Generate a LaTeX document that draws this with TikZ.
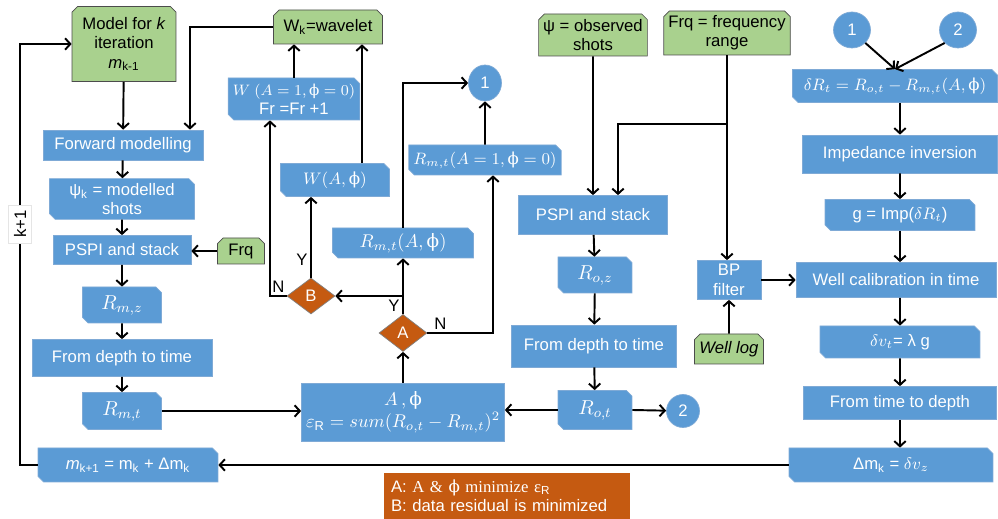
\RequirePackage{fix-cm}
\documentclass[tikz,border=0pt]{standalone}
\usepackage{fontspec}
\setmainfont{Liberation Sans}
\newfontfamily\phifont{DejaVu Serif}
\newfontfamily\legserif{Liberation Serif}
\usetikzlibrary{shapes.misc,shapes.geometric,arrows.meta}

\definecolor{boxblue}{HTML}{5B9BD5}
\definecolor{blueline}{HTML}{7FAAD6}
\definecolor{boxgreen}{HTML}{A9D18E}
\definecolor{boxorange}{HTML}{C55A11}

\newcommand{\phis}{\mbox{\phifont ϕ}}

\begin{document}
\begin{tikzpicture}[x=0.02cm, y=-0.02cm,
  >={Straight Barb[length=3pt,width=6.5pt]},
  every node/.style={font=\fontsize{9.5}{11}\selectfont, align=center},
  plainbox/.style={rectangle, draw=blueline, fill=boxblue, text=white, inner sep=1pt},
  snipbox/.style={plainbox, chamfered rectangle, chamfered rectangle corners={north east,south west}, chamfered rectangle sep=1.6pt},
  inbox/.style={chamfered rectangle, chamfered rectangle corners={north west,north east}, chamfered rectangle sep=1.6pt, draw=black!70, fill=boxgreen, text=black, inner sep=1pt},
  decision/.style={diamond, draw=gray, fill=boxorange, text=white, inner sep=0pt},
  joint/.style={ellipse, draw=blueline, fill=boxblue, text=white, inner sep=0pt},
  arr/.style={->, line width=1.1pt},
  lbl/.style={text=black, inner sep=1.5pt},
  smallmath/.style={font=\fontsize{9.4}{11}\selectfont},
  mathsz/.style={font=\fontsize{10.5}{12.5}\selectfont},
  bigmath/.style={font=\fontsize{11.5}{13}\selectfont}]
\useasboundingbox (0,0) rectangle (998,519);

% left column
\node[inbox, minimum width=2.08cm, minimum height=1.5cm] (model) at (124,44) {Model for \textit{k}\\iteration\\\textit{m}\textsubscript{k-1}};
\node[inbox, minimum width=2.18cm, minimum height=0.68cm] (wavelet) at (328,27) {W\textsubscript{k}=wavelet};
\node[plainbox, minimum width=3.2cm, minimum height=0.6cm] (fwd) at (123,145) {Forward modelling};
\node[snipbox, minimum width=2.9cm, minimum height=0.76cm] (psik) at (122,199) {ψ\textsubscript{k} = modelled\\shots};
\node[plainbox, minimum width=2.76cm, minimum height=0.58cm] (pspim) at (122,250) {PSPI and stack};
\node[inbox, minimum width=0.94cm, minimum height=0.52cm] (frqa) at (241,251) {Frq};
\node[snipbox, bigmath, minimum width=1.58cm, minimum height=0.72cm] (rmz) at (122,305) {$R_{m,z}$};
\node[plainbox, minimum width=3.6cm, minimum height=0.74cm] (dtm) at (122,358) {From depth to time};
\node[snipbox, bigmath, minimum width=1.58cm, minimum height=0.74cm] (rmt) at (122,411) {$R_{m,t}$};
\node[snipbox, minimum width=3.6cm, minimum height=0.68cm] (mnew) at (128,465) {\textit{m}\textsubscript{k+1} = m\textsubscript{k} + Δm\textsubscript{k}};
\coordinate (kline) at (20,224);

% wavelet and reflectivity loop
\node[snipbox, minimum width=2.44cm, minimum height=0.84cm] (wone) at (294,99) {{\fontsize{8.6}{10}\selectfont$W\ (A=1,\phis=0)$}\\Fr =Fr +1};
\node[snipbox, minimum width=2.18cm, minimum height=0.66cm] (waphi) at (335,180) {$W(A,\phis)$};
\node[decision, minimum width=0.96cm, minimum height=0.72cm] (bdec) at (311,296) {B};
\node[snipbox, mathsz, minimum width=2.82cm, minimum height=0.6cm] (rmtaphi) at (403,243) {$R_{m,t}(A,\phis)$};
\node[decision, minimum width=0.96cm, minimum height=0.74cm] (adec) at (403,333) {A};
\node[plainbox, mathsz, minimum width=4.06cm, minimum height=1.16cm] (objective) at (403,412) {$A\,,\phis$\\$\varepsilon_{\mathrm{R}} = sum(R_{o,t}-R_{m,t})^2$};
\node[snipbox, smallmath, minimum width=3.0cm, minimum height=0.6cm] (rmtone) at (485,160) {$R_{m,t}(A=1,\phis=0)$};
\node[joint, minimum width=0.66cm, minimum height=0.72cm] (conone) at (485,83) {1};
\coordinate (ysplit) at (403,296);

% observed data
\node[inbox, minimum width=2.1cm, minimum height=0.84cm] (psio) at (593,35) {ψ = observed\\shots};
\node[inbox, minimum width=2.52cm, minimum height=0.76cm] (frqr) at (727,33) {Frq = frequency\\range};
\node[plainbox, minimum width=2.98cm, minimum height=0.78cm] (pspio) at (593,215) {PSPI and stack};
\node[snipbox, bigmath, minimum width=1.48cm, minimum height=0.72cm] (roz) at (595,275) {$R_{o,z}$};
\node[plainbox, minimum width=3.3cm, minimum height=0.84cm] (dto) at (594,346) {From depth to time};
\node[snipbox, bigmath, minimum width=1.48cm, minimum height=0.78cm] (rot) at (595,410) {$R_{o,t}$};
\node[joint, minimum width=0.66cm, minimum height=0.66cm] (contwo) at (683,411) {2};
\node[plainbox, minimum width=1.28cm, minimum height=0.78cm] (bpf) at (729,280) {BP\\filter};
\node[inbox, minimum width=1.38cm, minimum height=0.6cm] (welllog) at (729,349) {\textit{Well log}};
\coordinate (fsplit) at (727,124);

% right column
\node[joint, minimum width=0.74cm, minimum height=0.72cm] (conone2) at (852,30) {1};
\node[joint, minimum width=0.74cm, minimum height=0.72cm] (contwo2) at (958,30) {2};
\node[snipbox, smallmath, minimum width=4.1cm, minimum height=0.66cm] (dr) at (895,86) {$\delta R_t = R_{o,t} - R_{m,t}(A,\phis)$};
\node[plainbox, minimum width=3.9cm, minimum height=0.76cm] (imp) at (900,154) {Impedance inversion};
\node[snipbox, minimum width=3.0cm, minimum height=0.62cm] (gimp) at (900,215) {g = Imp($\delta R_t$)};
\node[plainbox, minimum width=4.0cm, minimum height=0.7cm] (wcal) at (896,280) {Well calibration in time};
\node[snipbox, minimum width=3.2cm, minimum height=0.64cm] (dv) at (900,342) {$\delta v_t$= λ g};
\node[plainbox, minimum width=3.86cm, minimum height=0.66cm] (ttd) at (900,403) {From time to depth};
\node[snipbox, minimum width=4.08cm, minimum height=0.68cm] (dm) at (891,465) {Δm\textsubscript{k} = $\delta v_z$};

% legend
\node[fill=boxorange, text=white, align=left, text width=4.64cm, inner xsep=4pt, minimum height=0.92cm] (legend) at (507,496) {A: {\legserif A \& {\phifont ϕ} minimize ε}\textsubscript{R}\\B: data residual is minimized};

% connectors
\draw[arr] (model) -- (fwd);
\draw[arr] (wavelet.west) -| ([xshift=1.34cm]fwd.north);
\draw[arr] (fwd) -- (psik);
\draw[arr] (psik) -- (pspim);
\draw[arr] (frqa.west) -- (frqa.west -| pspim.east);
\draw[arr] (pspim) -- (rmz);
\draw[arr] (rmz) -- (dtm);
\draw[arr] (dtm) -- (rmt);
\draw[arr] (rmt.east) -- (rmt.east -| objective.west);
\draw[arr] (objective) -- (adec);
\draw[arr] (adec) -- (rmtaphi) node[lbl, pos=0.15, left] {Y};
\draw[arr] (ysplit) -- (bdec);
\draw[arr] (adec.east) -| ([xshift=0.16cm]rmtone.south) node[lbl, pos=0.1, above] {N};
\draw[arr] (rmtone) -- (conone);
\draw[arr] (rmtaphi.north) |- (conone.west);
\draw[arr] (bdec.north) -- (bdec.north |- waphi.south) node[lbl, pos=0.22, left] {Y};
\draw[arr] (bdec.west) -| ([xshift=-0.48cm]wone.south) node[lbl, pos=0.25, above] {N};
\draw[arr] (wone.north) -- (wone.north |- wavelet.south);
\draw[arr] ([xshift=0.54cm]waphi.north) -- ([xshift=0.54cm]waphi.north |- wavelet.south);
\draw[arr] (mnew.west) -| (kline) |- (model.west);
\node[draw=black!10, fill=white, rotate=90, inner sep=3pt] (kplus) at (kline) {k+1};

\draw[arr] (psio) -- (pspio);
\draw[arr] (frqr.south) -- (frqr.south |- bpf.north);
\draw[arr] (fsplit) -| ([xshift=0.5cm]pspio.north);
\draw[arr] (pspio) -- (roz);
\draw[arr] (roz) -- (dto);
\draw[arr] (dto) -- (rot);
\draw[arr] (rot.west) -- (rot.west -| objective.east);
\draw[arr] (rot.east) -- (contwo);
\draw[arr] (welllog) -- (bpf);
\draw[arr] (bpf.east) -- (bpf.east -| wcal.west);

\draw[arr] (conone2.south east) -- (dr.north);
\draw[arr] (contwo2.south west) -- (dr.north);
\draw[arr] (dr.south -| imp) -- (imp);
\draw[arr] (imp) -- (gimp);
\draw[arr] (gimp.south) -- (gimp.south |- wcal.north);
\draw[arr] (wcal.south -| dv) -- (dv);
\draw[arr] (dv) -- (ttd);
\draw[arr] (ttd.south) -- (ttd.south |- dm.north);
\draw[arr] (dm.west) -- (dm.west -| mnew.east);
\end{tikzpicture}
\end{document}
